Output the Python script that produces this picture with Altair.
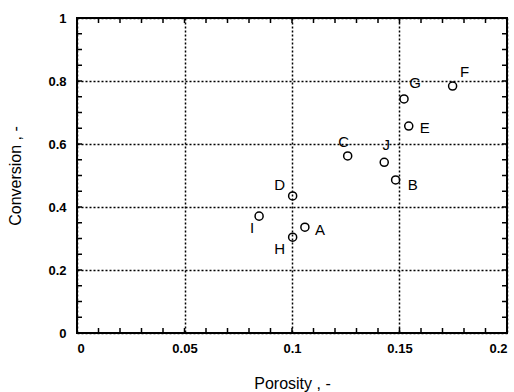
import altair as alt
import pandas as pd

# data
labels = ["A", "B", "C", "D", "E", "F", "G", "H", "I", "J"]
porosity = [0.1060, 0.1482, 0.1259, 0.1003, 0.1543, 0.1747, 0.1521, 0.1003, 0.0847, 0.1429]
conversion = [0.336, 0.486, 0.562, 0.435, 0.657, 0.784, 0.743, 0.304, 0.371, 0.542]

x_labels = [0, 0.05, 0.1, 0.15, 0.2]
y_labels = [0, 0.2, 0.4, 0.6, 0.8, 1]
x_ticks = [0, 0.01, 0.02, 0.03, 0.04, 0.05, 0.06, 0.07, 0.08, 0.09, 0.1,
           0.11, 0.12, 0.13, 0.14, 0.15, 0.16, 0.17, 0.18, 0.19, 0.2]
y_ticks = [0, 0.05, 0.1, 0.15, 0.2, 0.25, 0.3, 0.35, 0.4, 0.45, 0.5,
           0.55, 0.6, 0.65, 0.7, 0.75, 0.8, 0.85, 0.9, 0.95, 1]

df = pd.DataFrame({"label": labels, "porosity": porosity, "conversion": conversion})
xt = pd.DataFrame({"porosity": x_ticks})
yt = pd.DataFrame({"conversion": y_ticks})

# label placement relative to each circle (style, not data)
label_offsets = {
    "A": (15, 3), "B": (17, 5), "C": (-4, -14), "D": (-13, -11), "E": (16, 2),
    "F": (12, -14), "G": (11, -16), "H": (-13, 12), "I": (-7, 12), "J": (2, -17),
}

W, H = 430, 315
TICK = 5
FONT = "Liberation Sans"
x_scale = alt.Scale(domain=[0, 0.2], nice=False, zero=False)
y_scale = alt.Scale(domain=[0, 1], nice=False, zero=False)

x_axis = alt.Axis(
    values=x_labels, title="Porosity , -", labelExpr="'' + datum.value",
    domain=False, ticks=False, labelPadding=9,
    labelFont=FONT, labelFontSize=13, labelFontWeight="bold", labelColor="black",
    titleFont=FONT, titleFontSize=16, titleFontWeight="normal", titleColor="black",
    titlePadding=20, grid=True, gridColor="black", gridDash=[2, 2], gridWidth=1.5,
)
y_axis = alt.Axis(
    values=y_labels, title="Conversion , -", labelExpr="'' + datum.value",
    domain=False, ticks=False, labelPadding=11,
    labelFont=FONT, labelFontSize=13, labelFontWeight="bold", labelColor="black",
    titleFont=FONT, titleFontSize=16, titleFontWeight="normal", titleColor="black",
    titlePadding=24, grid=True, gridColor="black", gridDash=[2, 2], gridWidth=1.5,
)

X = alt.X("porosity:Q", scale=x_scale, axis=x_axis)
Y = alt.Y("conversion:Q", scale=y_scale, axis=y_axis)

points = alt.Chart(df).mark_point(
    shape="circle", filled=False, size=65, strokeWidth=1.5, color="black", opacity=1
).encode(x=X, y=Y)

tick_style = dict(color="black", strokeWidth=1.5)
x_bottom = alt.Chart(xt).mark_rule(**tick_style).encode(
    x=X, y=alt.value(H), y2=alt.value(H - TICK))
x_top = alt.Chart(xt).mark_rule(**tick_style).encode(
    x=X, y=alt.value(0), y2=alt.value(TICK))
y_left = alt.Chart(yt).mark_rule(**tick_style).encode(
    y=Y, x=alt.value(0), x2=alt.value(TICK))
y_right = alt.Chart(yt).mark_rule(**tick_style).encode(
    y=Y, x=alt.value(W - TICK), x2=alt.value(W))

texts = []
for name in labels:
    dx, dy = label_offsets[name]
    texts.append(
        alt.Chart(df).transform_filter(alt.datum.label == name).mark_text(
            font=FONT, fontSize=15, color="black", dx=dx, dy=dy,
            align="center", baseline="middle"
        ).encode(x=X, y=Y, text="label:N")
    )

chart = alt.layer(points, x_bottom, x_top, y_left, y_right, *texts).properties(
    width=W, height=H,
    autosize=alt.AutoSizeParams(type="none"),
    padding={"left": 77, "top": 18, "right": 7, "bottom": 59},
    background="white",
).configure_view(stroke="black", strokeWidth=2)

chart.save("out.html", embed_options={"renderer": "svg", "actions": False})
